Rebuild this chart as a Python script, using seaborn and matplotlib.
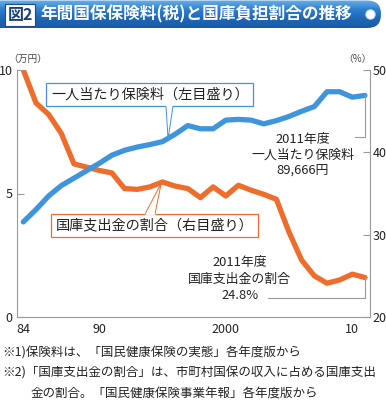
import numpy as np
import pandas as pd
import matplotlib
matplotlib.use("Agg")
import matplotlib.pyplot as plt
from matplotlib.patches import FancyBboxPatch, Circle, Rectangle, Polygon
from matplotlib.colors import LinearSegmentedColormap
import seaborn as sns

# data
years = list(range(1984, 2012))
premium = [3.85, 4.35, 4.90, 5.32, 5.62, 5.92, 6.22, 6.55, 6.75, 6.88,
           6.98, 7.10, 7.40, 7.75, 7.62, 7.62, 7.97, 8.00, 7.97, 7.82,
           7.95, 8.12, 8.33, 8.52, 9.12, 9.12, 8.90, 8.97]
share = [50.0, 46.0, 44.6, 42.3, 38.6, 38.2, 37.8, 37.5, 35.6, 35.5,
         35.8, 36.4, 35.9, 35.6, 34.5, 35.8, 34.7, 36.0, 35.4, 34.9,
         34.3, 30.3, 26.9, 25.0, 24.1, 24.5, 25.2, 24.8]
xtick_pos = [1984, 1990, 2000, 2010]
xtick_labels = ["84", "90", "2000", "10"]

BLUE = "#3f95dc"
ORANGE = "#ee6c2c"
GRAY = "#9a9a9a"
TXT = "#222222"

sns.set_style("white")
plt.rcParams["font.family"] = ["Noto Sans CJK JP", "DejaVu Sans"]

df = pd.DataFrame({"year": years, "premium": premium, "share": share})

fig = plt.figure(figsize=(3.86, 4.07), dpi=100)
W, H = 386, 407
ax = fig.add_axes([17 / W, 1 - 317 / H, (370 - 17) / W, (317 - 70) / H])
ax2 = ax.twinx()

sns.lineplot(data=df, x="year", y="share", ax=ax2, color=ORANGE, lw=3.8,
             solid_capstyle="round", solid_joinstyle="round")
sns.lineplot(data=df, x="year", y="premium", ax=ax, color=BLUE, lw=3.8,
             solid_capstyle="round", solid_joinstyle="round")
ax.set_zorder(ax2.get_zorder() + 1)
ax.patch.set_visible(False)

ax.set_xlim(1983.5, 2011.4)
ax.set_ylim(0, 10)
ax2.set_ylim(20, 50)
ax.set_xlabel("")
ax.set_ylabel("")
ax2.set_ylabel("")

ax.set_xticks(xtick_pos)
ax.set_xticklabels(xtick_labels)
ax.set_xticks(np.arange(1984.5, 2011, 1), minor=True)
ax.set_yticks([0, 5, 10])
ax2.set_yticks([20, 30, 40, 50])

ax.tick_params(axis="x", which="major", length=0, pad=4, labelsize=9, labelcolor=TXT)
ax.tick_params(axis="x", which="minor", direction="in", length=4, width=0.8, color=GRAY)
ax.tick_params(axis="y", direction="in", length=5, width=0.8, color=GRAY, pad=3,
               labelsize=9, labelcolor=TXT)
ax2.tick_params(axis="y", direction="in", length=5, width=0.8, color=GRAY, pad=2,
                labelsize=9, labelcolor=TXT)

for s in ["top", "right"]:
    ax.spines[s].set_visible(False)
for s in ["top", "left", "bottom"]:
    ax2.spines[s].set_visible(False)
for a, s in [(ax, "left"), (ax, "bottom"), (ax2, "right")]:
    a.spines[s].set_color(GRAY)
    a.spines[s].set_linewidth(0.8)

# label boxes with pointers
ax.text(1994.0, 9.0, "一人当たり保険料（左目盛り）", ha="center", va="center",
        fontsize=10.2, color=TXT, zorder=5,
        bbox=dict(boxstyle="square,pad=0.33", fc="white", ec=BLUE, lw=0.9))
ax.add_patch(Polygon([(1995.28, 8.62), (1995.44, 7.2), (1995.82, 8.62)],
                     closed=True, fc="white", ec="none", zorder=6))
ax.plot([1995.28, 1995.44, 1995.82], [8.5, 7.2, 8.5], color=BLUE, lw=0.7, zorder=6)

ax2.text(1994.4, 31.1, "国庫支出金の割合（右目盛り）", ha="center", va="center",
         fontsize=10.2, color=TXT, zorder=5,
         bbox=dict(boxstyle="square,pad=0.33", fc="white", ec=ORANGE, lw=0.9))
ax2.add_patch(Polygon([(1993.65, 32.4), (1994.89, 36.2), (1994.42, 32.4)],
                      closed=True, fc="white", ec="none", zorder=6))
ax2.plot([1993.65, 1994.89, 1994.42], [32.6, 36.2, 32.6], color=ORANGE, lw=0.7, zorder=6)

# 2011 callouts
ax.plot([2008.9, 2011, 2011], [7.29, 7.29, premium[-1]], color=GRAY, lw=0.8, zorder=4)
ax.text(2006.1, 6.55, "2011年度\n一人当たり保険料\n89,666円", ha="center", va="center",
        multialignment="center", fontsize=9.3, color=TXT, linespacing=1.32, zorder=5,
        bbox=dict(boxstyle="square,pad=0.05", fc="white", ec="none"))
ax2.plot([2003.3, 2011, 2011], [22.35, 22.35, share[-1]], color=GRAY, lw=0.8, zorder=4)
ax2.text(2001.1, 24.6, "2011年度\n国庫支出金の割合\n24.8%", ha="center", va="center",
         multialignment="center", fontsize=9.3, color=TXT, linespacing=1.38, zorder=5)

# unit labels
fig.text(28 / W, 1 - 59 / H, "（万円）", ha="center", va="center", fontsize=7, color="#444")
fig.text(357 / W, 1 - 59 / H, "（%）", ha="center", va="center", fontsize=7, color="#444")

# title bar
tax = fig.add_axes([0, 1 - 31 / H, 1, 31 / H])
tax.set_xlim(0, W)
tax.set_ylim(31, 0)
tax.axis("off")
bar = FancyBboxPatch((-40, 0.5), 421, 27.5, boxstyle="round,pad=0,rounding_size=13.5",
                     fc="none", ec="none", transform=tax.transData)
tax.add_patch(bar)
grad = LinearSegmentedColormap.from_list("g", ["#6aaee8", "#2f7fcf", "#1f66b6", "#1a5ba8"])
img = tax.imshow(np.linspace(0, 1, 64).reshape(-1, 1), cmap=grad, aspect="auto",
                 extent=[-40, 381, 28.5, 0.5], zorder=1)
img.set_clip_path(bar)
tax.add_patch(Rectangle((5, 3.5), 30, 22, fc="white", ec="#1a4a8a", lw=0.8, zorder=3))
tax.text(20, 14.8, "図2", ha="center", va="center", fontsize=11.5, fontweight="bold",
         color="#1a3f78", zorder=4)
tax.text(40, 14.5, "年間国保保険料(税)と国庫負担割合の推移", ha="left", va="center",
         fontsize=12.0, fontweight="bold", color="white", zorder=4)
tax.add_patch(Circle((370.5, 14.5), 4.6, fc="white", ec="#cfe3f5", lw=0.8, zorder=4))
tax.set_xlim(0, W)
tax.set_ylim(31, 0)

# footnotes
fig.text(2 / W, 1 - 353 / H, "※1)保険料は、「国民健康保険の実態」各年度版から",
         fontsize=9, va="center", color=TXT)
fig.text(2 / W, 1 - 373 / H, "※2)「国庫支出金の割合」は、市町村国保の収入に占める国庫支出",
         fontsize=9, va="center", color=TXT)
fig.text(31 / W, 1 - 393 / H, "金の割合。「国民健康保険事業年報」各年度版から",
         fontsize=9, va="center", color=TXT)

fig.savefig("out.png", dpi=100)
